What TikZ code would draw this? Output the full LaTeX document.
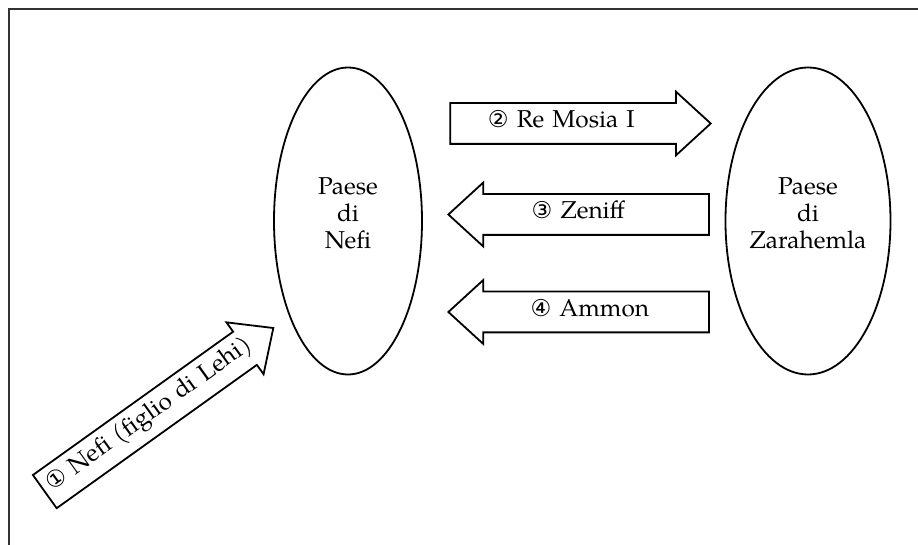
\documentclass[tikz,border=0pt]{standalone}
\usepackage{fontspec}
\setmainfont{texgyrepagella}[Extension=.otf, UprightFont=*-regular]
\newfontfamily\circfont{DejaVu Sans}[Scale=0.95]
\usetikzlibrary{shapes.geometric,shapes.arrows}

\begin{document}
\begin{tikzpicture}[x=0.5pt, y=-0.5pt]
\useasboundingbox (0,0) rectangle (918,545);

\coordinate (Frame_BL) at (9, 545);
\coordinate (Frame_TL) at (9, 9);
\coordinate (Frame_TR) at (918, 9);

\coordinate (Land_1) at (348, 221);
\coordinate (Land_2) at (808, 221);
\coordinate (Move_1) at (150.0, 416.3);
\coordinate (Move_2) at (569.3, 123.5);
\coordinate (Move_3) at (589.8, 214.5);
\coordinate (Move_4) at (589.8, 312);


\draw[line width=1pt, black!80] (Frame_BL) -- (Frame_TL) -- (Frame_TR);


\tikzset{LandStyle/.style = {
 shape = ellipse,
 draw,
 line width = 0.9pt,
 minimum width = 74pt,
 minimum height = 153.5pt,
 inner sep = 0pt,
 align = center,
 text depth = 8pt,
 font = \fontsize{12.2}{13.5}\selectfont} }

\node[LandStyle] (Nefi) at (Land_1) {Paese\\di\\Nefi};
\node[LandStyle] (Zarahemla) at (Land_2) {Paese\\di\\Zarahemla};


\tikzset{MoveStyle/.style = {
 shape = single arrow,
 draw,
 fill = white,
 line width = 0.9pt,
 single arrow tip angle = 85,
 single arrow head extend = 5.75pt,
 minimum width = 0pt,
 minimum height = 0pt,
 inner xsep = 0pt,
 inner ysep = 5pt,
 text width = #1,
 text height = 7pt,
 text depth = 2.5pt,
 align = center,
 font = \fontsize{12.2}{13.5}\selectfont} }

\node[MoveStyle=128.5pt, rotate=35.6] (M1) at (Move_1) {{\circfont ①} Nefi (figlio di Lehi)};
\node[MoveStyle=118.25pt] (M2) at (Move_2) {{\circfont ②} Re Mosia I\rule{8pt}{0pt}};
\node[MoveStyle=118.25pt, shape border rotate=180] (M3) at (Move_3) {{\circfont ③} Zeniff\rule{11.5pt}{0pt}};
\node[MoveStyle=118.25pt, shape border rotate=180] (M4) at (Move_4) {{\circfont ④} Ammon};

\end{tikzpicture}
\end{document}
